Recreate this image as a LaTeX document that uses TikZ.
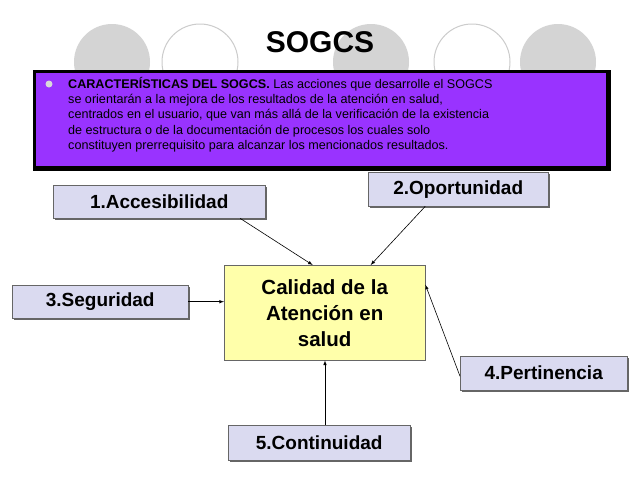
\documentclass[tikz,border=0pt]{standalone}
\usepackage{fontspec}
\setmainfont{Liberation Sans}
\definecolor{lav}{RGB}{218,218,240}
\definecolor{purp}{RGB}{153,51,255}
\definecolor{yel}{RGB}{255,255,170}
\begin{document}
\begin{tikzpicture}[x=1pt,y=-1pt,
  circg/.style={fill=black!17,draw=none},
  circw/.style={fill=white,draw=black!20,line width=1pt},
  lbox/.style={draw=black!60,fill=lav,font=\bfseries\fontsize{19}{22}\selectfont,inner sep=3pt,anchor=north west},
  arr/.style={-latex,line width=0.6pt}]
\useasboundingbox (0,0) rectangle (640,480);
\fill[white] (0,0) rectangle (640,480);
\fill[circg] (112,62) circle (38);
\draw[circw] (200,62) circle (38);
\fill[circg] (371,62) circle (38);
\draw[circw] (472,62) circle (38);
\fill[circg] (558,62) circle (38);
\node[font=\bfseries\fontsize{30}{34}\selectfont] (title) at (320,42) {SOGCS};
\fill[black] (33,70) rectangle (611,171);
\fill[purp] (36,73) rectangle (606,166);
\fill[black!15] (49,84) circle (3.5);
\node[anchor=north west,align=left,inner sep=0pt,font=\fontsize{12.6}{15.3}\selectfont] (txt) at (68,77)
{\textbf{CARACTERÍSTICAS DEL SOGCS.} Las acciones que desarrolle el SOGCS\\
se orientarán a la mejora de los resultados de la atención en salud,\\
centrados en el usuario, que van más allá de la verificación de la existencia\\
de estructura o de la documentación de procesos los cuales solo\\
constituyen prerrequisito para alcanzar los mencionados resultados.};
\node[draw=black!60,fill=yel,minimum width=201pt,minimum height=95pt,anchor=north west,align=center,inner sep=0pt,
  font=\bfseries\fontsize{20.5}{26}\selectfont] (c) at (224,265) {Calidad de la\\Atención en\\salud};
\fill[black!60] (55,187) rectangle (267,220);
\node[lbox,minimum width=212pt,minimum height=33pt] (a1) at (53,185) {1.Accesibilidad};
\fill[black!60] (370,174) rectangle (550,208);
\node[lbox,minimum width=180pt,minimum height=34pt] (a2) at (368,172) {2.Oportunidad};
\fill[black!60] (14,287) rectangle (190,320);
\node[lbox,minimum width=176pt,minimum height=33pt] (a3) at (12,285) {3.Seguridad};
\fill[black!60] (462,358) rectangle (629,392);
\node[lbox,minimum width=167pt,minimum height=34pt] (a4) at (460,356) {4.Pertinencia};
\fill[black!60] (230,427) rectangle (412,462);
\node[lbox,minimum width=182pt,minimum height=35pt] (a5) at (228,425) {5.Continuidad};
\draw[arr] ([xshift=81pt]a1.south) -- ([xshift=-12pt]c.north);
\draw[arr] ([xshift=-33pt]a2.south) -- ([xshift=46pt]c.north);
\draw[arr] (a3.east) -- (c.west |- a3.east);
\draw[arr] ([yshift=-3pt]a4.west) -- ([yshift=28pt]c.east);
\draw[arr] (a5.north -| 325,0) -- (c.south -| 325,0);
\end{tikzpicture}
\end{document}
